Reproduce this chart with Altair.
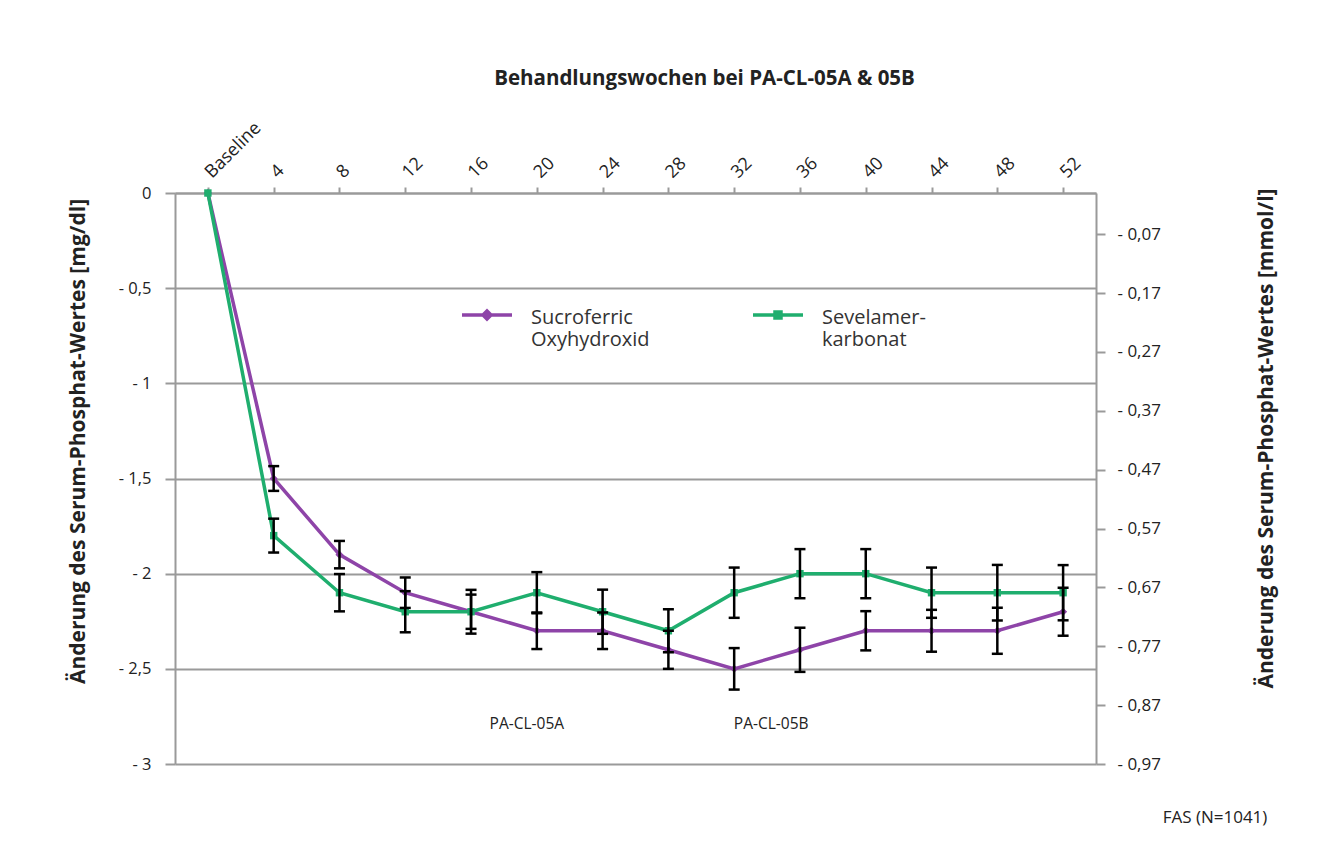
import altair as alt
import pandas as pd

weeks = ["Baseline", "4", "8", "12", "16", "20", "24", "28", "32", "36", "40", "44", "48", "52"]
series_names = ["Sucroferric Oxyhydroxid", "Sevelamerkarbonat"]
sucro = [0, -1.5, -1.9, -2.1, -2.2, -2.3, -2.3, -2.4, -2.5, -2.4, -2.3, -2.3, -2.3, -2.2]
sevel = [0, -1.8, -2.1, -2.2, -2.2, -2.1, -2.2, -2.3, -2.1, -2.0, -2.0, -2.1, -2.1, -2.1]
sucro_err = [0, 0.065, 0.072, 0.08, 0.09, 0.096, 0.096, 0.1, 0.109, 0.116, 0.103, 0.11, 0.121, 0.126]
sevel_err = [0, 0.089, 0.098, 0.108, 0.115, 0.108, 0.116, 0.113, 0.132, 0.129, 0.129, 0.132, 0.146, 0.145]
mgdl_ticks = [0, -0.5, -1, -1.5, -2, -2.5, -3]
mmol_ticks = [-0.07, -0.17, -0.27, -0.37, -0.47, -0.57, -0.67, -0.77, -0.87, -0.97]
annotations = ["PA-CL-05A", "PA-CL-05B"]
caption = "FAS (N=1041)"

PURPLE = "#8e44a8"
GREEN = "#1fae6e"
GRAY = "#9a9a9a"
FONT = "Open Sans"

rows = []
for s, vals, errs in [(series_names[0], sucro, sucro_err), (series_names[1], sevel, sevel_err)]:
    for w, v, e in zip(weeks, vals, errs):
        rows.append({"week": w, "series": s, "value": v, "err": e, "lo": v - e, "hi": v + e})
df = pd.DataFrame(rows)
err_df = df[df["err"] > 0]

x_enc = alt.X(
    "week:N", sort=weeks, scale=alt.Scale(type="point", padding=0.5),
    axis=alt.Axis(
        orient="top", title="Behandlungswochen bei PA-CL-05A & 05B",
        titleX=529, titleY=-115, titleAlign="center", titleBaseline="middle",
        titleFontSize=20.5, titleFontWeight="bold", titleColor="#222",
        labelAngle=315, labelAlign="left", labelBaseline="middle", labelPadding=12,
        labelFontSize=18, labelColor="#222", tickSize=6, tickWidth=2, tickColor=GRAY,
        domainColor=GRAY, domainWidth=2, grid=False,
    ),
)
y_scale = alt.Scale(domain=[-3, 0], nice=False, zero=False)
y_axis = alt.Axis(
    values=mgdl_ticks, title="Änderung des Serum-Phosphat-Wertes [mg/dl]",
    labelExpr="datum.value == 0 ? '0' : '- ' + replace(format(-datum.value, '~g'), '.', ',')",
    titleAngle=270, titleX=-97, titleY=248, titleAlign="center", titleBaseline="middle",
    titleFontSize=21, titleFontWeight="bold", titleColor="#222",
    labelFontSize=16.5, labelColor="#222", labelPadding=14,
    tickSize=10, tickWidth=2, tickColor=GRAY, domainColor=GRAY, domainWidth=2,
    grid=True, gridColor=GRAY, gridWidth=2,
)

base = alt.Chart(df)

lines_p = base.transform_filter(alt.datum.series == series_names[0]).mark_line(
    color=PURPLE, strokeWidth=3.5).encode(x=x_enc, y=alt.Y("value:Q", scale=y_scale, axis=y_axis))
pts_p = base.transform_filter(alt.datum.series == series_names[0]).mark_point(
    shape="diamond", filled=True, size=65, color=PURPLE, opacity=1).encode(
    x=x_enc, y=alt.Y("value:Q", scale=y_scale, axis=y_axis))
lines_g = base.transform_filter(alt.datum.series == series_names[1]).mark_line(
    color=GREEN, strokeWidth=3.5).encode(x=x_enc, y=alt.Y("value:Q", scale=y_scale, axis=y_axis))
pts_g = base.transform_filter(alt.datum.series == series_names[1]).mark_point(
    shape="square", filled=True, size=55, color=GREEN, opacity=1).encode(
    x=x_enc, y=alt.Y("value:Q", scale=y_scale, axis=y_axis))

err_base = alt.Chart(err_df)
err_rule = err_base.mark_rule(color="black", strokeWidth=2.5).encode(
    x=x_enc, y=alt.Y("lo:Q", scale=y_scale, axis=y_axis), y2="hi:Q")
cap_lo = err_base.mark_tick(color="black", thickness=2.5, size=11, opacity=1).encode(
    x=x_enc, y=alt.Y("lo:Q", scale=y_scale, axis=y_axis))
cap_hi = err_base.mark_tick(color="black", thickness=2.5, size=11, opacity=1).encode(
    x=x_enc, y=alt.Y("hi:Q", scale=y_scale, axis=y_axis))

path_p = "M-1,0.28L1,0.28M0,0.12L0.16,0.28L0,0.44L-0.16,0.28Z"
path_g = "M-1,0.28L1,0.28M-0.12,0.16L0.12,0.16L0.12,0.40L-0.12,0.40Z"
leg = alt.Legend(
    title=None, orient="none", legendX=285, legendY=88, direction="horizontal",
    columns=2, columnPadding=96, symbolSize=2500, symbolStrokeWidth=3.5, symbolOpacity=1,
    labelFontSize=20, labelColor="#333", labelOffset=17, labelBaseline="top",
    labelExpr="datum.label == 'Sucroferric Oxyhydroxid' ? ['Sucroferric', 'Oxyhydroxid'] : ['Sevelamer-', 'karbonat']",
    labelLimit=300,
)
legend_layer = base.mark_point(opacity=0, filled=False).encode(
    x=x_enc, y=alt.Y("value:Q", scale=y_scale, axis=y_axis),
    color=alt.Color("series:N", scale=alt.Scale(domain=series_names, range=[PURPLE, GREEN]), legend=leg),
    shape=alt.Shape("series:N", scale=alt.Scale(domain=series_names, range=[path_p, path_g]), legend=leg),
)

ann_df = pd.DataFrame({"label": annotations, "week": ["20", "32"], "y": [-2.79, -2.79]})
ann_a = alt.Chart(ann_df).transform_filter(alt.datum.label == annotations[0]).mark_text(
    fontSize=15.5, color="#222", dx=-10).encode(
    x=x_enc, y=alt.Y("y:Q", scale=y_scale, axis=y_axis), text="label:N")
ann_b = alt.Chart(ann_df).transform_filter(alt.datum.label == annotations[1]).mark_text(
    fontSize=15.5, color="#222", dx=37).encode(
    x=x_enc, y=alt.Y("y:Q", scale=y_scale, axis=y_axis), text="label:N")

cap_text = alt.Chart(pd.DataFrame({"t": [caption]})).mark_text(
    fontSize=17, color="#222").encode(x=alt.value(1040), y=alt.value(625), text="t:N")

left = alt.layer(legend_layer, lines_p, lines_g, pts_p, pts_g, err_rule, cap_lo, cap_hi, ann_a, ann_b, cap_text)

right = alt.Chart(pd.DataFrame({"mmol": mmol_ticks})).mark_point(opacity=0).encode(
    y=alt.Y("mmol:Q", scale=alt.Scale(domain=[-0.97, 0], nice=False, zero=False),
            axis=alt.Axis(orient="right", values=mmol_ticks,
                          labelExpr="'- ' + replace(format(-datum.value, '.2f'), '.', ',')",
                          title="Änderung des Serum-Phosphat-Wertes [mmol/l]",
                          titleAngle=270, titleX=170, titleY=245, titleAlign="center", titleBaseline="middle",
                          titleFontSize=21, titleFontWeight="bold", titleColor="#222",
                          labelFontSize=17, labelColor="#222", labelPadding=12,
                          tickSize=9, tickWidth=2, tickColor=GRAY, domainColor=GRAY, domainWidth=2,
                          grid=False)))

chart = alt.layer(left, right).resolve_scale(y="independent").properties(
    width=921, height=571,
    padding={"left": 167, "top": 185, "right": 225, "bottom": 88},
    autosize=alt.AutoSizeParams(type="none"),
).configure(font=FONT).configure_view(stroke=None)

chart.save("out.html", embed_options={"renderer": "svg", "actions": False})
